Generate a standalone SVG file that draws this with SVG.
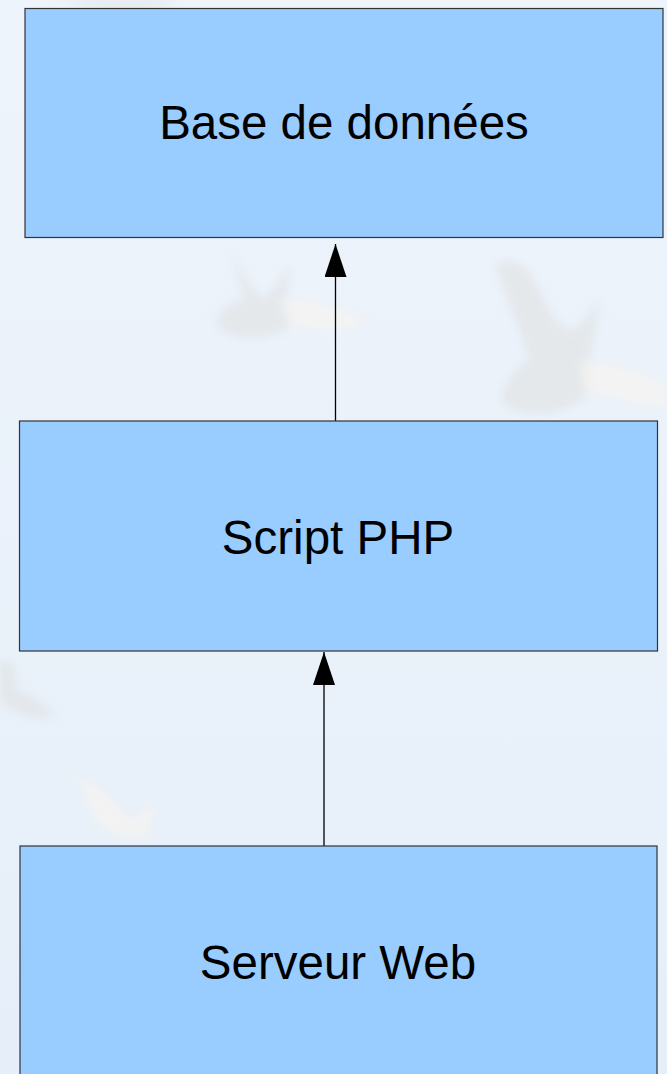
<svg xmlns="http://www.w3.org/2000/svg" width="667" height="1074" viewBox="0 0 667 1074">
  <style>
    .box { fill: #99ccff; stroke: #333333; stroke-width: 1.2; }
    .label { font-family: "Liberation Sans", Arial, sans-serif; font-size: 47.5px; fill: #000000; text-anchor: middle; }
    .link { stroke: #000000; stroke-width: 1.3; fill: none; }
    .bird { fill: #dcdcda; opacity: 0.45; }
    .wing { fill: #f6f4f0; opacity: 0.7; }
  </style>
  <defs>
    <linearGradient id="sky" x1="0" y1="0" x2="0" y2="1">
      <stop offset="0" stop-color="#eef4fb"/>
      <stop offset="1" stop-color="#e6eff9"/>
    </linearGradient>
    <filter id="soft" x="-30%" y="-30%" width="160%" height="160%">
      <feGaussianBlur stdDeviation="5"/>
    </filter>
    <!-- solid triangular arrowhead, tip at the line end -->
    <marker id="head" viewBox="0 0 33 22" refX="33" refY="11" markerWidth="33" markerHeight="22" markerUnits="userSpaceOnUse" orient="auto">
      <path d="M0 0 L33 11 L0 22 Z" fill="#000000"/>
    </marker>
  </defs>

  <!-- sky backdrop with faint flying birds -->
  <rect x="0" y="0" width="667" height="1074" fill="url(#sky)"/>
  <g id="backdrop" filter="url(#soft)">
    <path class="bird" d="M230 250 Q250 290 265 300 L290 265 L285 310 Q300 330 270 335 Q240 345 215 325 Q225 300 245 300 Z"/>
    <path class="wing" d="M280 300 Q330 300 365 320 Q345 335 290 325 Z"/>
    <path class="bird" d="M495 265 Q520 250 540 290 Q555 330 575 330 L600 300 L590 360 Q600 400 560 410 Q520 420 500 400 Q510 370 530 360 Z"/>
    <path class="wing" d="M580 360 Q640 370 667 385 L667 410 Q620 400 585 390 Z"/>
    <path class="bird" d="M0 660 Q20 660 15 690 Q40 700 55 715 Q30 725 0 700 Z"/>
    <path class="wing" d="M75 775 Q110 790 130 820 L155 800 L150 835 Q120 845 95 820 Z"/>
    <path class="bird" d="M60 0 Q110 15 170 5 L175 0 Z"/>
  </g>

  <!-- connectors -->
  <g id="connectors">
    <line class="link" x1="335.5" y1="421" x2="335.5" y2="244" marker-end="url(#head)"/>
    <line class="link" x1="324" y1="846" x2="324" y2="652" marker-end="url(#head)" stroke="#444444"/>
  </g>

  <!-- nodes -->
  <g id="node-database">
    <rect class="box" x="25" y="8.5" width="638" height="229"/>
    <text class="label" x="344" y="139">Base de données</text>
  </g>
  <g id="node-php">
    <rect class="box" x="19.5" y="421" width="638" height="230"/>
    <text class="label" x="338" y="554">Script PHP</text>
  </g>
  <g id="node-web">
    <rect class="box" x="20" y="846" width="637" height="240"/>
    <text class="label" x="338" y="979">Serveur Web</text>
  </g>
</svg>
